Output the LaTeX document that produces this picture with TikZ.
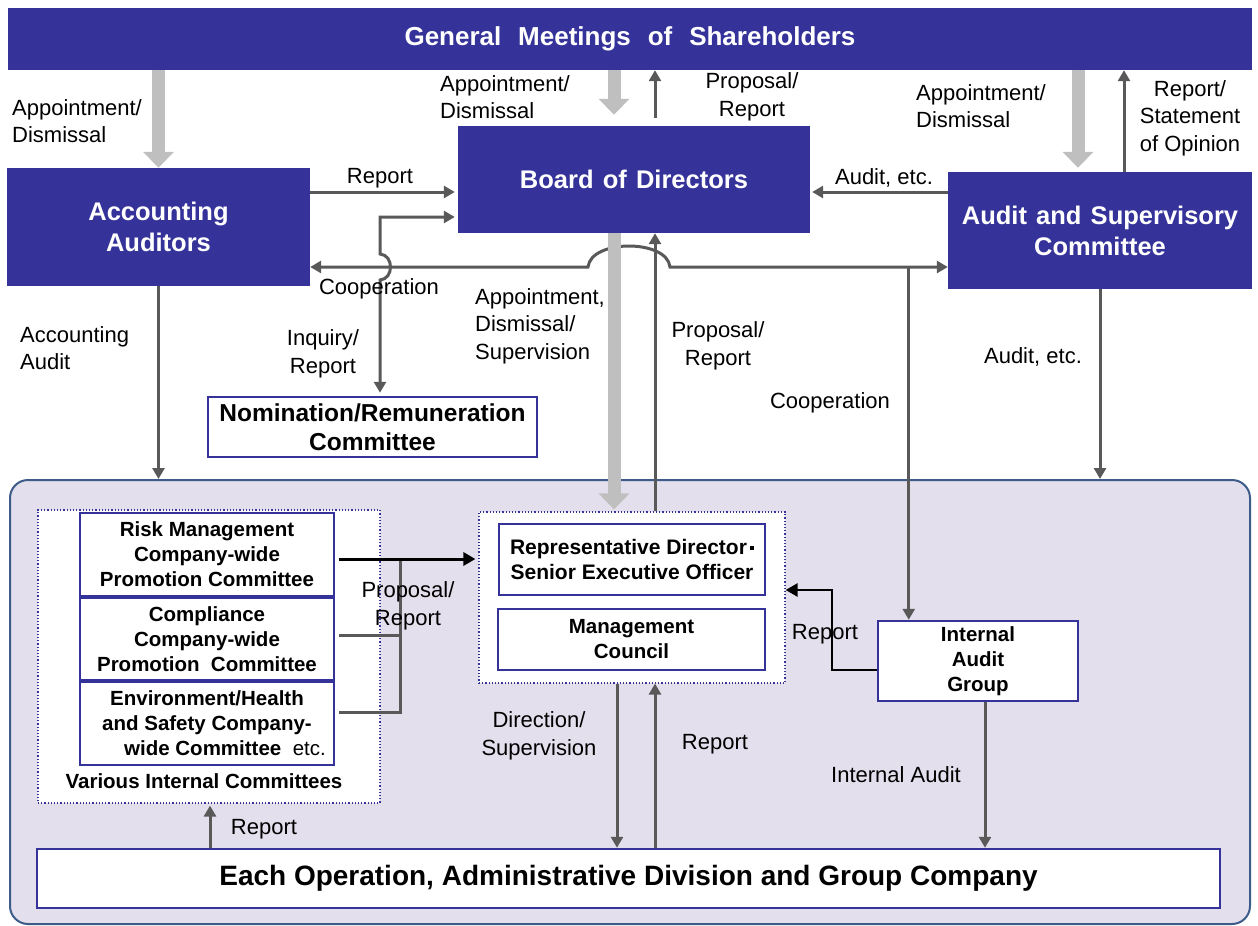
\documentclass[tikz,border=0pt]{standalone}
\usepackage{fontspec}
\setmainfont{Liberation Sans}
\usetikzlibrary{arrows.meta}
\definecolor{navy}{RGB}{53,51,153}
\definecolor{dgray}{RGB}{89,89,89}
\definecolor{lgray}{RGB}{191,191,191}
\definecolor{lav}{RGB}{228,223,236}
\definecolor{grpb}{RGB}{62,92,138}
\newcommand\mytitlefont{\bfseries\fontsize{25.5}{31}\selectfont\spaceskip=0.36em\relax}
\newcommand\mygmfont{\bfseries\fontsize{26}{31}\selectfont\spaceskip=0.65em\relax}
\begin{document}
\begin{tikzpicture}[x=1pt,y=-1pt,
  tbox/.style={fill=navy, text=white, draw=none, inner sep=0pt, align=center, font=\mytitlefont},
  wbox/.style={fill=white, draw=navy, line width=2.5pt, inner sep=0pt, align=center, font=\bfseries\fontsize{20.5}{25}\selectfont},
  dotbox/.style={fill=white, draw=navy, dotted, line width=1.2pt, inner sep=0pt},
  lbl/.style={inner sep=0pt, align=center, font=\fontsize{22}{27.5}\selectfont},
  lbll/.style={inner sep=0pt, align=left, font=\fontsize{22}{27.5}\selectfont},
  darr/.style={draw=dgray, line width=3pt, -{Triangle[width=12pt,length=11pt]}},
  dline/.style={draw=dgray, line width=3pt},
  garr/.style={draw=lgray, line width=13pt, -{Triangle[width=30pt,length=16pt]}},
  barr/.style={draw=black, line width=3pt, -{Triangle[width=13pt,length=12pt]}}]
\useasboundingbox (0,0) rectangle (1258,926);

% ---------------- boxes ----------------
\node[draw=grpb, fill=lav, rounded corners=18pt, line width=2pt, minimum width=1240pt, minimum height=444pt] (grp) at (630,702) {};

\node[tbox, font=\mygmfont, minimum width=1244pt, minimum height=62pt] (gm) at (630,39) {General Meetings of Shareholders};
\node[tbox, minimum width=303pt, minimum height=118pt] (acct) at (158.5,227) {Accounting\\Auditors};
\node[tbox, minimum width=352pt, minimum height=107pt] (bod) at (634,179.5) {Board of Directors};
\node[tbox, minimum width=304pt, minimum height=117pt] (audit) at (1100,230.5) {Audit and Supervisory\\Committee};
\node[wbox, font=\bfseries\fontsize{24.5}{28.5}\selectfont, minimum width=329pt, minimum height=60pt] (nom) at (372.5,427) {Nomination/Remuneration\\Committee};

\node[dotbox, minimum width=342pt, minimum height=293pt] (vic) at (209,656.5) {};
\node[wbox, minimum width=254pt, minimum height=83pt] (risk) at (207,554.5) {Risk Management\\Company-wide\\Promotion Committee};
\node[wbox, minimum width=254pt, minimum height=82pt] (comp) at (207,639) {Compliance\\Company-wide\\Promotion\ \ Committee};
\node[wbox, minimum width=254pt, minimum height=83pt] (env) at (207,723.5) {Environment/Health\\and Safety Company-\\\hspace*{36pt}wide Committee\ \ {\mdseries etc.}};
\node[inner sep=0pt, font=\bfseries\fontsize{20.5}{25}\selectfont] (vict) at (204,781) {Various Internal Committees};

\node[dotbox, minimum width=306pt, minimum height=171pt] (cdot) at (632,597.5) {};
\node[wbox, font=\bfseries\fontsize{21}{25.5}\selectfont, minimum width=266pt, minimum height=71pt] (rep) at (632,559.5) {Representative Director\hspace{3pt}\rule[4pt]{4pt}{4pt}\\Senior Executive Officer};
\node[wbox, minimum width=267pt, minimum height=61pt] (mc) at (631.5,639.5) {Management\\Council};

\node[wbox, minimum width=200pt, minimum height=80pt] (iag) at (978,661) {Internal\\Audit\\Group};
\node[wbox, font=\bfseries\fontsize{28}{32}\selectfont, minimum width=1183pt, minimum height=59pt] (each) at (628.5,878.5) {Each Operation, Administrative Division and Group Company};

% ---------------- helper coordinates ----------------
\coordinate (b1) at ([xshift=-20pt]bod.north);
\coordinate (b2) at ([xshift=21pt]bod.north);
\coordinate (b3) at ([xshift=-20pt]bod.south);
\coordinate (b4) at ([xshift=21pt]bod.south);
\coordinate (s1) at ([xshift=-22pt]audit.north);
\coordinate (s2) at ([xshift=24pt]audit.north);
\coordinate (yrep) at (0,192);
\coordinate (yaud) at (0,192);
\coordinate (yinq) at (0,217);
\coordinate (ycoop) at (0,267);
\coordinate (xinq) at (380,0);
\coordinate (xcoop) at ([xshift=32pt]iag.north west);
\coordinate (xia) at ([xshift=7pt]iag.south);
\coordinate (xd1) at (617,0);
\coordinate (xd2) at (655,0);
\coordinate (xr) at (210,0);
\coordinate (yr1) at (0,559);
\coordinate (yr2) at (0,635);
\coordinate (yr3) at (0,712);
\coordinate (yia) at (0,670);
\coordinate (yia2) at (0,590);

% ---------------- top arrows ----------------
\draw[garr] (gm.south -| acct.north) -- (acct.north);
\draw[garr, shorten >=11pt] (gm.south -| b1) -- (b1);
\draw[darr, shorten <=8pt] (b2) -- (gm.south -| b2);
\draw[garr, shorten >=4pt] (gm.south -| s1) -- (s1);
\draw[darr] (s2) -- (gm.south -| s2);

% ---------------- middle arrows ----------------
\draw[darr, shorten >=3pt] (acct.east |- yrep) -- (bod.west |- yrep);
\draw[darr, shorten >=2pt] (audit.west |- yaud) -- (bod.east |- yaud);

% cooperation line with jump
\draw[dline, {Triangle[width=12pt,length=11pt]}-{Triangle[width=12pt,length=11pt]}]
  (acct.east |- ycoop) -- (588,267) .. controls (591,239) and (667,239) .. (670,267) -- (audit.west |- ycoop);
\draw[darr] (xcoop |- ycoop) -- (xcoop |- iag.north);

% inquiry / report with jump
\draw[dline, {Triangle[width=12pt,length=11pt]}-{Triangle[width=12pt,length=11pt]}, shorten <=3pt, shorten >=3pt]
  (bod.west |- yinq) -- (xinq |- yinq) -- (380,254) .. controls (394,255) and (394,279) .. (380,280) -- (xinq |- nom.north);

\draw[darr] (acct.south) -- (acct.south |- grp.north);
\draw[darr] (audit.south) -- (audit.south |- grp.north);
\draw[garr, shorten >=2pt] (b3) -- (b3 |- cdot.north);
\draw[darr] (b4 |- cdot.north) -- (b4);

% ---------------- lower arrows ----------------
\draw[dline] ([xshift=4pt]comp.east |- yr2) -- (400,635);
\draw[dline] ([xshift=4pt]env.east |- yr3) -| (400,559);
\draw[barr, shorten >=3pt] ([xshift=4pt]risk.east |- yr1) -- (cdot.west |- yr1);
\draw[barr, line width=2.5pt] (iag.west |- yia) -- (832,670) -- (832,590) -- (cdot.east |- yia2);
\draw[darr] (xd1 |- cdot.south) -- (xd1 |- each.north);
\draw[darr] (xd2 |- each.north) -- (xd2 |- cdot.south);
\draw[darr] (xia |- iag.south) -- (xia |- each.north);
\draw[darr, shorten >=2pt] (xr |- each.north) -- (xr |- vic.south);

% ---------------- labels ----------------
\node[lbll, anchor=west] (l1) at (12,121) {Appointment/\\Dismissal};
\node[lbll, anchor=west] (l2) at (440,97) {Appointment/\\Dismissal};
\node[lbl] (l3) at (752,97) {Proposal/\\Report};
\node[lbll, anchor=west] (l4) at (916,106) {Appointment/\\Dismissal};
\node[lbl] (l5) at (1190,118) {Report/\\Statement\\of Opinion};
\node[lbl] (l6) at (380,178) {Report};
\node[lbl] (l7) at (884,178) {Audit, etc.};
\node[lbl] (l8) at (379,289) {Cooperation};
\node[lbl] (l9) at (323,354) {Inquiry/\\Report};
\node[lbll, anchor=west] (l10) at (20,348) {Accounting\\Audit};
\node[lbll, anchor=west] (l11) at (475,326) {Appointment,\\Dismissal/\\Supervision};
\node[lbl] (l12) at (718,346) {Proposal/\\Report};
\node[lbl] (l13) at (1033,357) {Audit, etc.};
\node[lbl] (l14) at (830,403) {Cooperation};
\node[lbl] (l15) at (408,606) {Proposal/\\Report};
\node[lbl] (l16) at (825,634) {Report};
\node[lbl] (l17) at (539,736) {Direction/\\Supervision};
\node[lbl] (l18) at (715,744) {Report};
\node[lbl] (l19) at (896,775) {Internal Audit};
\node[lbl] (l20) at (264,829) {Report};
\end{tikzpicture}
\end{document}
